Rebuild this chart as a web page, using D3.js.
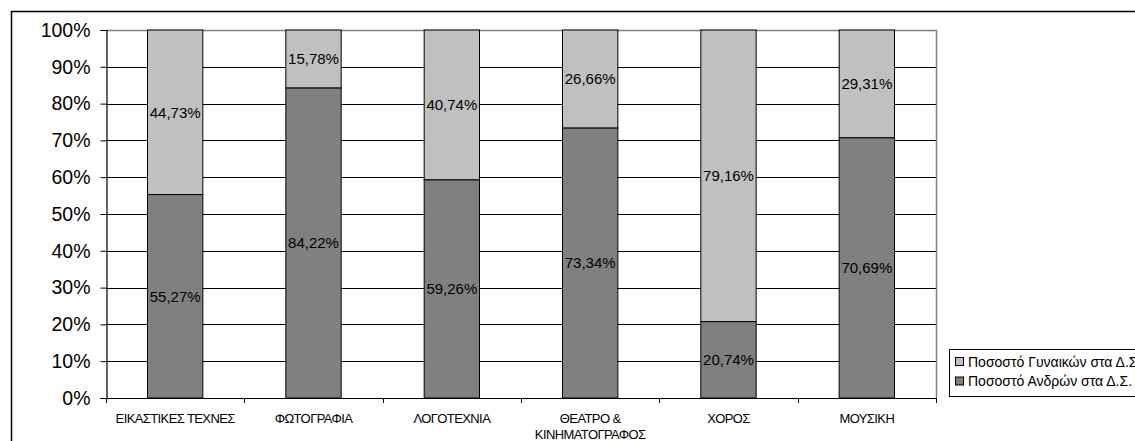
<!DOCTYPE html>
<html><head><meta charset="utf-8">
<script src="https://cdn.jsdelivr.net/npm/d3@7"></script>
<style>body{margin:0;background:#fff}svg{display:block}text{font-family:"Liberation Sans",Arial,sans-serif}</style>
</head><body>
<svg id="c" width="1135" height="441"></svg>
<script>
const categories = ["ΕΙΚΑΣΤΙΚΕΣ ΤΕΧΝΕΣ", "ΦΩΤΟΓΡΑΦΙΑ", "ΛΟΓΟΤΕΧΝΙΑ", "ΘΕΑΤΡΟ & ΚΙΝΗΜΑΤΟΓΡΑΦΟΣ", "ΧΟΡΟΣ", "ΜΟΥΣΙΚΗ"];
const categoryLines = [["ΕΙΚΑΣΤΙΚΕΣ ΤΕΧΝΕΣ"], ["ΦΩΤΟΓΡΑΦΙΑ"], ["ΛΟΓΟΤΕΧΝΙΑ"], ["ΘΕΑΤΡΟ &", "ΚΙΝΗΜΑΤΟΓΡΑΦΟΣ"], ["ΧΟΡΟΣ"], ["ΜΟΥΣΙΚΗ"]];
const menValues = [55.27, 84.22, 59.26, 73.34, 20.74, 70.69];
const womenValues = [44.73, 15.78, 40.74, 26.66, 79.16, 29.31];
const seriesNames = ["Ποσοστό Γυναικών στα Δ.Σ", "Ποσοστό Ανδρών στα Δ.Σ."];
const yTicks = [0, 10, 20, 30, 40, 50, 60, 70, 80, 90, 100];

const svg = d3.select("#c");
const L = 106, R = 936, T = 30, B = 398;
// outer border
svg.append("rect").attr("x", 11.5).attr("y", 11.5).attr("width", 1200).attr("height", 500)
  .attr("fill", "none").attr("stroke", "#000").attr("stroke-width", 1.5);

const x = d3.scaleBand().domain(categories).range([L, R]).paddingInner(0.6).paddingOuter(0.3);
const xb = d3.scaleBand().domain(categories).range([L, R]);
const y = d3.scaleLinear().domain([0, 100]).range([B, T]);

// gridlines
svg.append("g").selectAll("line").data(yTicks.filter(d => d > 0 && d < 100)).join("line")
  .attr("x1", L).attr("x2", R).attr("y1", d => Math.round(y(d)) + 0.5).attr("y2", d => Math.round(y(d)) + 0.5)
  .attr("stroke", "#000").attr("stroke-width", 1);
// plot border top/right gray
svg.append("path").attr("d", `M${L},${T + 0.5}H${R + 0.5}V${B}`).attr("fill", "none").attr("stroke", "#808080").attr("stroke-width", 1.5);

// bars
const rows = categories.map((c, i) => ({c, men: menValues[i], women: womenValues[i]}));
const g = svg.append("g");
rows.forEach(r => {
  const bx = x(r.c), bw = x.bandwidth();
  g.append("rect").attr("x", bx).attr("y", y(100)).attr("width", bw).attr("height", y(r.men) - y(100))
    .attr("fill", "#c0c0c0").attr("stroke", "#000").attr("stroke-width", 1);
  g.append("rect").attr("x", bx).attr("y", y(r.men)).attr("width", bw).attr("height", y(0) - y(r.men))
    .attr("fill", "#808080").attr("stroke", "#000").attr("stroke-width", 1);
  const fmt = v => v.toFixed(2).replace(".", ",") + "%";
  g.append("text").attr("x", bx + bw / 2).attr("y", (y(r.men) + y(100)) / 2).attr("dy", "0.35em")
    .attr("text-anchor", "middle").attr("font-size", 15).attr("fill", "#000").text(fmt(r.women));
  g.append("text").attr("x", bx + bw / 2).attr("y", (y(r.men) + y(0)) / 2).attr("dy", "0.35em")
    .attr("text-anchor", "middle").attr("font-size", 15).attr("fill", "#000").text(fmt(r.men));
});

// y axis
const ya = d3.axisLeft(y).tickValues(yTicks).tickFormat(d => d + "%").tickSize(6).tickPadding(10);
const yg = svg.append("g").attr("transform", `translate(${L + 0.5},0)`).call(ya);
yg.select(".domain").attr("stroke", "#000").attr("stroke-width", 1.2);
yg.selectAll(".tick line").attr("stroke", "#000");
yg.selectAll("text").attr("font-size", 19.5).attr("fill", "#000").attr("font-family", '"Liberation Sans",Arial,sans-serif');

// x axis
svg.append("line").attr("x1", L).attr("x2", R).attr("y1", B + 0.5).attr("y2", B + 0.5).attr("stroke", "#000").attr("stroke-width", 1.2);
const tickXs = categories.map(c => xb(c)).concat([R]);
svg.append("g").selectAll("line").data(tickXs).join("line")
  .attr("x1", d => Math.round(d) + 0.5).attr("x2", d => Math.round(d) + 0.5).attr("y1", B).attr("y2", B + 5)
  .attr("stroke", "#000");
categories.forEach((c, i) => {
  const t = svg.append("text").attr("x", xb(c) + xb.bandwidth() / 2).attr("y", 423)
    .attr("text-anchor", "middle").attr("font-size", 13).attr("letter-spacing", "-0.6").attr("fill", "#000");
  categoryLines[i].forEach((ln, j) => t.append("tspan").attr("x", xb(c) + xb.bandwidth() / 2).attr("dy", j ? 16 : 0).text(ln));
});

// legend
const lg = svg.append("g");
lg.append("rect").attr("x", 949.5).attr("y", 349.5).attr("width", 250).attr("height", 47)
  .attr("fill", "#fff").attr("stroke", "#000").attr("stroke-width", 1);
const legColors = ["#c0c0c0", "#808080"];
seriesNames.forEach((n, i) => {
  const yy = 362 + i * 19.5;
  lg.append("rect").attr("x", 955.5).attr("y", yy - 4.5).attr("width", 8).attr("height", 8)
    .attr("fill", legColors[i]).attr("stroke", "#000").attr("stroke-width", 1);
  lg.append("text").attr("x", 968).attr("y", yy).attr("dy", "0.35em").attr("font-size", 14).attr("fill", "#000").text(n);
});
</script>
</body></html>
